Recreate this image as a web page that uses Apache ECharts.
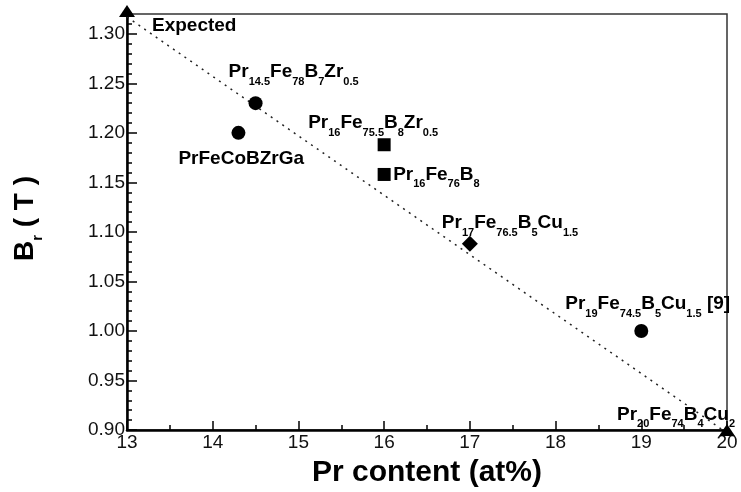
<!DOCTYPE html>
<html><head><meta charset="utf-8">
<script src="https://cdn.jsdelivr.net/npm/echarts@6/dist/echarts.min.js"></script>
<style>html,body{margin:0;padding:0;background:#fff}#c{width:741px;height:492px}</style>
</head><body><div id="c"></div>
<script>
// ---- data ----
const circleX = [14.5, 14.3, 19.0];
const circleY = [1.23, 1.20, 1.00];
const circleNames = ['Pr<14.5>Fe<78>B<7>Zr<0.5>', 'PrFeCoBZrGa', 'Pr<19>Fe<74.5>B<5>Cu<1.5> [9]'];

const squareX = [16, 16];
const squareY = [1.188, 1.158];
const squareNames = ['Pr<16>Fe<75.5>B<8>Zr<0.5>', 'Pr<16>Fe<76>B<8>'];

const diamondX = [17];
const diamondY = [1.088];
const diamondNames = ['Pr<17>Fe<76.5>B<5>Cu<1.5>'];

const triangleX = [13, 20];
const triangleY = [1.323, 0.90];
const triangleNames = ['Expected', 'Pr<20>Fe<74>B<4>Cu<2>'];

const expectedX = [13, 20];
const expectedY = [1.317, 0.897];

const xAxisTitle = 'Pr content (at%)';
const yAxisTitle = '{b|B}{r|r}{t| ( T )}';

// ---- styling / layout (not data) ----
const FONT = 'Liberation Sans, Arial, sans-serif';
const circleOffsets = [[-27, -27.5], [-60, 29.4], [-76, -23.2]];
const squareOffsets = [[-76, -18.2], [9, 3.5]];
const diamondOffsets = [[-28, -17.7]];
const triangleOffsets = [[25, 17.9], [-110, -12.1]];

const labelRich = {
  m: {fontFamily: FONT, fontSize: 19, fontWeight: 'bold', color: '#000', height: 19, padding: [0, 0, 7, 0], verticalAlign: 'top'},
  s: {fontFamily: FONT, fontSize: 11, fontWeight: 'bold', color: '#000', height: 11, padding: [14, 0, 1, 0], verticalAlign: 'top'}
};

function toRich(s) {
  return ('{m|' + s.replace(/<([^>]*)>/g, '}{s|$1}{m|') + '}').replace(/\{m\|\}/g, '');
}

function build(xs, ys, names, offsets) {
  return xs.map((x, i) => ({
    value: [x, ys[i]],
    label: {
      show: true, position: 'inside', align: 'left', verticalAlign: 'middle',
      offset: offsets[i], formatter: toRich(names[i]), rich: labelRich,
      color: '#000', textBorderWidth: 0
    }
  }));
}

const chart = echarts.init(document.getElementById('c'), null, {renderer: 'canvas'});
const tickStyle = {color: '#000', width: 1.5};
const markerItem = {color: '#000', borderWidth: 0, opacity: 1};
chart.setOption({
  animation: false,
  backgroundColor: '#fff',
  grid: {left: 127, right: 14, top: 14, bottom: 62, show: true, borderColor: '#333', borderWidth: 1.5, backgroundColor: 'transparent', outerBoundsMode: 'none', containLabel: false},
  xAxis: {
    type: 'value', min: 13, max: 20, interval: 1,
    axisLine: {show: true, onZero: false, lineStyle: {color: '#000', width: 2.5}},
    axisTick: {show: true, inside: true, length: 9, lineStyle: tickStyle},
    minorTick: {show: true, splitNumber: 2, length: 5, lineStyle: tickStyle},
    axisLabel: {fontFamily: FONT, fontSize: 19, color: '#111', margin: 3},
    splitLine: {show: false}, minorSplitLine: {show: false},
    name: xAxisTitle, nameLocation: 'middle', nameGap: 28,
    nameTextStyle: {fontFamily: FONT, fontSize: 30, fontWeight: 'bold', color: '#000'}
  },
  yAxis: [{
    type: 'value', min: 0.9, max: 1.32, interval: 0.05,
    axisLine: {show: true, onZero: false, lineStyle: {color: '#000', width: 2.5}},
    axisTick: {show: true, inside: true, length: 10, lineStyle: tickStyle},
    axisLabel: {fontFamily: FONT, fontSize: 19, color: '#111', margin: 2, showMaxLabel: false,
      padding: [0, 0, 4, 0], formatter: v => v.toFixed(2)},
    splitLine: {show: false},
    name: yAxisTitle, nameLocation: 'middle', nameRotate: 90, nameGap: 82,
    nameTextStyle: {
      fontFamily: FONT, color: '#000',
      rich: {
        b: {fontFamily: FONT, fontSize: 28, fontWeight: 'bold', color: '#000', height: 28, padding: [0, 0, 6, 7], verticalAlign: 'top'},
        r: {fontFamily: FONT, fontSize: 15, fontWeight: 'bold', color: '#000', height: 15, padding: [19, 0, 0, 0], verticalAlign: 'top'},
        t: {fontFamily: FONT, fontSize: 28, fontWeight: 'bold', color: '#000', height: 28, padding: [0, 0, 6, 0], verticalAlign: 'top'}
      }
    }
  }, {
    type: 'value', min: 0.9, max: 1.32, interval: 0.01, position: 'left',
    axisLine: {show: false},
    axisTick: {show: true, inside: true, length: 5, lineStyle: tickStyle},
    axisLabel: {show: false}, splitLine: {show: false}
  }],
  series: [
    {
      type: 'line', name: 'Expected', data: expectedX.map((x, i) => [x, expectedY[i]]),
      symbol: 'none', clip: false, silent: true, z: 0, zlevel: 0,
      lineStyle: {color: '#222', width: 1.5, type: [2, 5]}
    },
    {type: 'scatter', symbol: 'circle', symbolSize: 14, clip: false, z: 5, zlevel: 1, itemStyle: markerItem,
      data: build(circleX, circleY, circleNames, circleOffsets)},
    {type: 'scatter', symbol: 'rect', symbolSize: 13, clip: false, z: 5, zlevel: 1, itemStyle: markerItem,
      data: build(squareX, squareY, squareNames, squareOffsets)},
    {type: 'scatter', symbol: 'diamond', symbolSize: 16, clip: false, z: 5, zlevel: 1, itemStyle: markerItem,
      data: build(diamondX, diamondY, diamondNames, diamondOffsets)},
    {type: 'scatter', symbol: 'triangle', symbolSize: [16, 12], clip: false, z: 5, zlevel: 1, itemStyle: markerItem,
      data: build(triangleX, triangleY, triangleNames, triangleOffsets)}
  ]
});
</script>
</body></html>
